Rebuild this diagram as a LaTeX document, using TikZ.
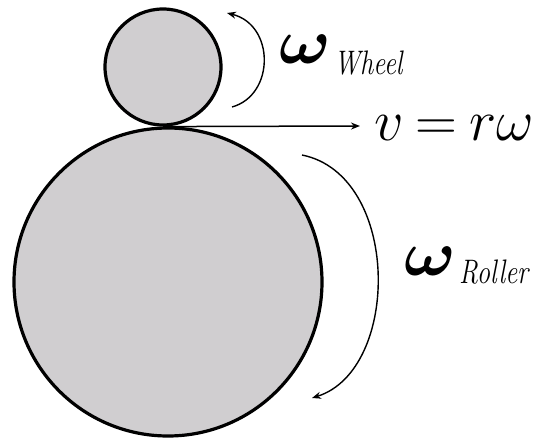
\RequirePackage{fix-cm}
\documentclass[tikz,border=0pt]{standalone}
\usetikzlibrary{arrows.meta}
\definecolor{discgray}{RGB}{208,206,208}
\newcommand{\bigomega}{\scalebox{1.07}[1]{\boldmath$\omega$}}
\newcommand{\subtxt}[1]{\scalebox{0.78}[1]{#1}}
\begin{document}
\begin{tikzpicture}[x=1pt,y=-1pt,
  disc/.style={circle,draw=black,line width=3.2pt,fill=discgray,inner sep=0pt},
  rot/.style={line width=1.4pt,-{Stealth[length=9pt,width=7pt]}},
  vel/.style={line width=1.5pt,-{Stealth[length=9pt,width=7pt]}},
  lbl/.style={anchor=base west,inner sep=0pt},
  omg/.style={lbl,font=\fontsize{64}{64}\selectfont},
  sub/.style={lbl,font=\fontsize{34}{34}\selectfont\itshape}]
\useasboundingbox (0,0) rectangle (538,442);
\node[disc,minimum size=116pt] (wheel) at (163,67) {};
\node[disc,minimum size=308pt] (roller) at (168,282) {};
\coordinate (vend) at (360,126);
\draw[vel] (wheel.south) -- (vend);
\coordinate (wa) at (232,107);
\coordinate (wb) at (227,13);
\draw[rot] (wa) .. controls (275,95) and (275,25) .. (wb);
\coordinate (ra) at (302,155);
\coordinate (rb) at (312,398);
\draw[rot] (ra) .. controls (401,175) and (401,370) .. (rb);
\node[omg] (womega) at (279,63) {\bigomega};
\node[sub] (wsub) at (334,74) {\subtxt{Wheel}};
\node[omg] (romega) at (404,275) {\bigomega};
\node[sub] (rsub) at (459,283) {\subtxt{Roller}};
\node[lbl,font=\fontsize{58}{58}\selectfont] (vlabel) at (374,140) {$v$\hspace{12pt}$=$\hspace{12pt}$r\omega$};
\end{tikzpicture}
\end{document}
